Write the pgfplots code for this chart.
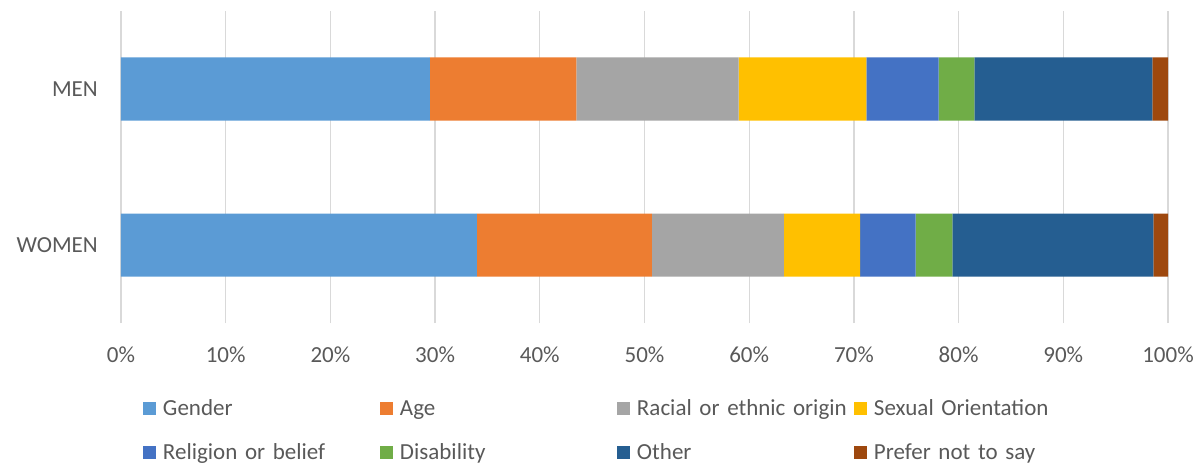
\documentclass[border=0pt]{standalone}
\usepackage{pgfplots}
\pgfplotsset{compat=1.18}
\usepackage{fontspec}
\setmainfont{Carlito}
\definecolor{cGender}{HTML}{5B9BD5}
\definecolor{cAge}{HTML}{ED7D31}
\definecolor{cRacial}{HTML}{A5A5A5}
\definecolor{cSexual}{HTML}{FFC000}
\definecolor{cReligion}{HTML}{4472C4}
\definecolor{cDisability}{HTML}{70AD47}
\definecolor{cOther}{HTML}{255E91}
\definecolor{cPrefer}{HTML}{9E480E}
\definecolor{txt}{HTML}{595959}
\definecolor{gridc}{HTML}{D9D9D9}
\begin{document}
\begin{tikzpicture}[font=\fontsize{23bp}{27bp}\selectfont]
\path[use as bounding box] (-121bp,-141bp) rectangle (1075bp,323bp);
\begin{axis}[
  at={(0,0)}, anchor=south west,
  scale only axis, width=1047bp, height=312bp,
  xbar stacked, bar width=63bp,
  xmin=0, xmax=100, ymin=-0.5, ymax=1.5,
  xtick={0,10,...,100},
  xticklabels={0\%,10\%,20\%,30\%,40\%,50\%,60\%,70\%,80\%,90\%,100\%},
  ytick={0,1}, yticklabels={WOMEN,MEN},
  major tick length=0pt,
  axis line style={draw=none},
  xmajorgrids, grid style={draw=gridc, line width=1.2bp},
  /pgf/number format/assume math mode=true,
  tick label style={font=\fontsize{23bp}{27bp}\selectfont, text=txt, inner sep=0pt},
  xticklabel style={anchor=base, yshift=-39bp},
  yticklabel style={anchor=east, xshift=-23bp},
  legend columns=4,
  legend style={draw=none, fill=none, inner sep=0pt, outer sep=0pt,
    at={(0,0)}, anchor=north west, xshift=22bp, yshift=-73.7bp,
    /tikz/column sep=0pt, /tikz/row sep=20.4bp,
    nodes={inner sep=0pt, text width=217bp, align=left, text height=19bp, text depth=4.6bp, anchor=west, text=txt, font=\fontsize{23bp}{27bp}\selectfont}},
  legend image code/.code={\fill[#1] (0bp,-6.5bp) rectangle (13bp,6.5bp); \path (20bp,0bp);},
  every axis plot/.append style={draw=none},
]
\addplot[fill=cGender] coordinates {(29.5,1) (34.0,0)};
\addplot[fill=cAge] coordinates {(14.0,1) (16.7,0)};
\addplot[fill=cRacial] coordinates {(15.5,1) (12.6,0)};
\addplot[fill=cSexual] coordinates {(12.2,1) (7.3,0)};
\addplot[fill=cReligion] coordinates {(6.9,1) (5.3,0)};
\addplot[fill=cDisability] coordinates {(3.4,1) (3.5,0)};
\addplot[fill=cOther] coordinates {(17.0,1) (19.2,0)};
\addplot[fill=cPrefer] coordinates {(1.5,1) (1.4,0)};
\legend{Gender,Age,Racial or ethnic origin,Sexual Orientation,Religion or belief,Disability,Other,Prefer not to say}
\end{axis}
\end{tikzpicture}
\end{document}
